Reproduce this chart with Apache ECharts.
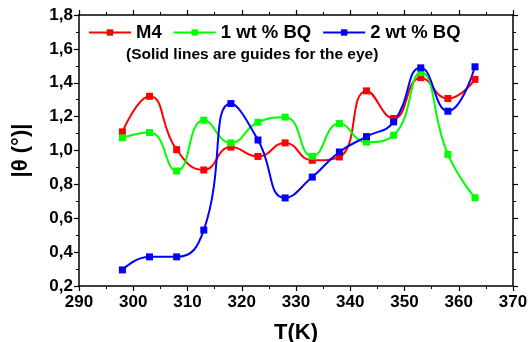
<!DOCTYPE html>
<html>
<head>
<meta charset="utf-8">
<script src="https://cdn.jsdelivr.net/npm/echarts@6/dist/echarts.min.js"></script>
<style>
html,body{margin:0;padding:0;background:#fff;}
#chart{width:529px;height:342px;}
</style>
</head>
<body>
<div id="chart"></div>
<script>
var temps = [298, 303, 308, 313, 318, 323, 328, 333, 338, 343, 348, 353, 358, 363];
var m4 = [1.11, 1.32, 1.005, 0.885, 1.02, 0.965, 1.045, 0.942, 0.962, 1.352, 1.189, 1.43, 1.307, 1.42];
var bq1 = [1.075, 1.106, 0.879, 1.179, 1.045, 1.167, 1.197, 0.966, 1.159, 1.05, 1.09, 1.46, 0.977, 0.721];
var bq2 = [0.295, 0.372, 0.372, 0.53, 1.277, 1.062, 0.72, 0.843, 0.991, 1.082, 1.169, 1.488, 1.232, 1.494];

function pairs(ys){
	var out = [];
	for (var i = 0; i < temps.length; i++) out.push([temps[i], ys[i]]);
	return out;
}

var myChart = echarts.init(document.getElementById('chart'));
var fontFam = 'Liberation Sans, Arial, sans-serif';
var axisLine = { show: true, lineStyle: { color: '#000', width: 1.5 } };
var tick = { show: true, inside: false, length: 5, lineStyle: { color: '#000', width: 1.2 } };
var minor = { show: true, splitNumber: 2, length: 3, lineStyle: { color: '#000', width: 1 } };

function mkSeries(name, ys, color){
	return {
		name: name,
		type: 'line',
		data: pairs(ys),
		smooth: 0.5,
		symbol: 'rect',
		symbolSize: 7,
		itemStyle: { color: color },
		lineStyle: { color: color, width: 2 }
	};
}

var option = {
	animation: false,
	textStyle: { fontFamily: fontFam },
	title: {
		text: '(Solid lines are guides for the eye)',
		left: 121,
		top: 42,
		textStyle: { fontSize: 15.5, fontWeight: 'bold', color: '#000', fontFamily: fontFam }
	},
	legend: {
		left: 83,
		top: 18,
		itemWidth: 42,
		itemHeight: 8,
		itemGap: 11,
		textStyle: { fontSize: 18.5, fontWeight: 'bold', color: '#000', fontFamily: fontFam },
		data: ['M4', '1 wt % BQ', '2 wt % BQ']
	},
	grid: { left: 79, right: 16, top: 15, bottom: 56, outerBoundsMode: 'none', containLabel: false },
	xAxis: [{
		type: 'value',
		min: 290, max: 370, interval: 10,
		position: 'bottom',
		name: 'T(K)',
		nameLocation: 'middle',
		nameGap: 36,
		nameTextStyle: { fontSize: 22, fontWeight: 'bold', color: '#000', fontFamily: fontFam },
		axisLine: axisLine,
		axisTick: tick,
		minorTick: minor,
		splitLine: { show: false },
		axisLabel: { fontSize: 17, fontWeight: 'bold', color: '#000', margin: 8 }
	}, {
		type: 'value',
		min: 290, max: 370, interval: 10,
		position: 'top',
		axisLine: axisLine,
		axisTick: tick,
		minorTick: minor,
		splitLine: { show: false },
		axisLabel: { show: false }
	}],
	yAxis: [{
		type: 'value',
		min: 0.2, max: 1.8, interval: 0.2,
		position: 'left',
		name: '|θ (°)|',
		nameLocation: 'middle',
		nameGap: 47,
		nameTextStyle: { fontSize: 22, fontWeight: 'bold', color: '#000', fontFamily: fontFam },
		axisLine: axisLine,
		axisTick: tick,
		minorTick: minor,
		splitLine: { show: false },
		axisLabel: {
			fontSize: 17, fontWeight: 'bold', color: '#000', margin: 6,
			formatter: function (v) { return v.toFixed(1).replace('.', ','); }
		}
	}, {
		type: 'value',
		min: 0.2, max: 1.8, interval: 0.2,
		position: 'right',
		axisLine: axisLine,
		axisTick: tick,
		minorTick: minor,
		splitLine: { show: false },
		axisLabel: { show: false }
	}],
	series: [
		mkSeries('M4', m4, '#ff0000'),
		mkSeries('1 wt % BQ', bq1, '#00ff00'),
		mkSeries('2 wt % BQ', bq2, '#0000ff')
	]
};
myChart.setOption(option, true);
</script>
</body>
</html>
